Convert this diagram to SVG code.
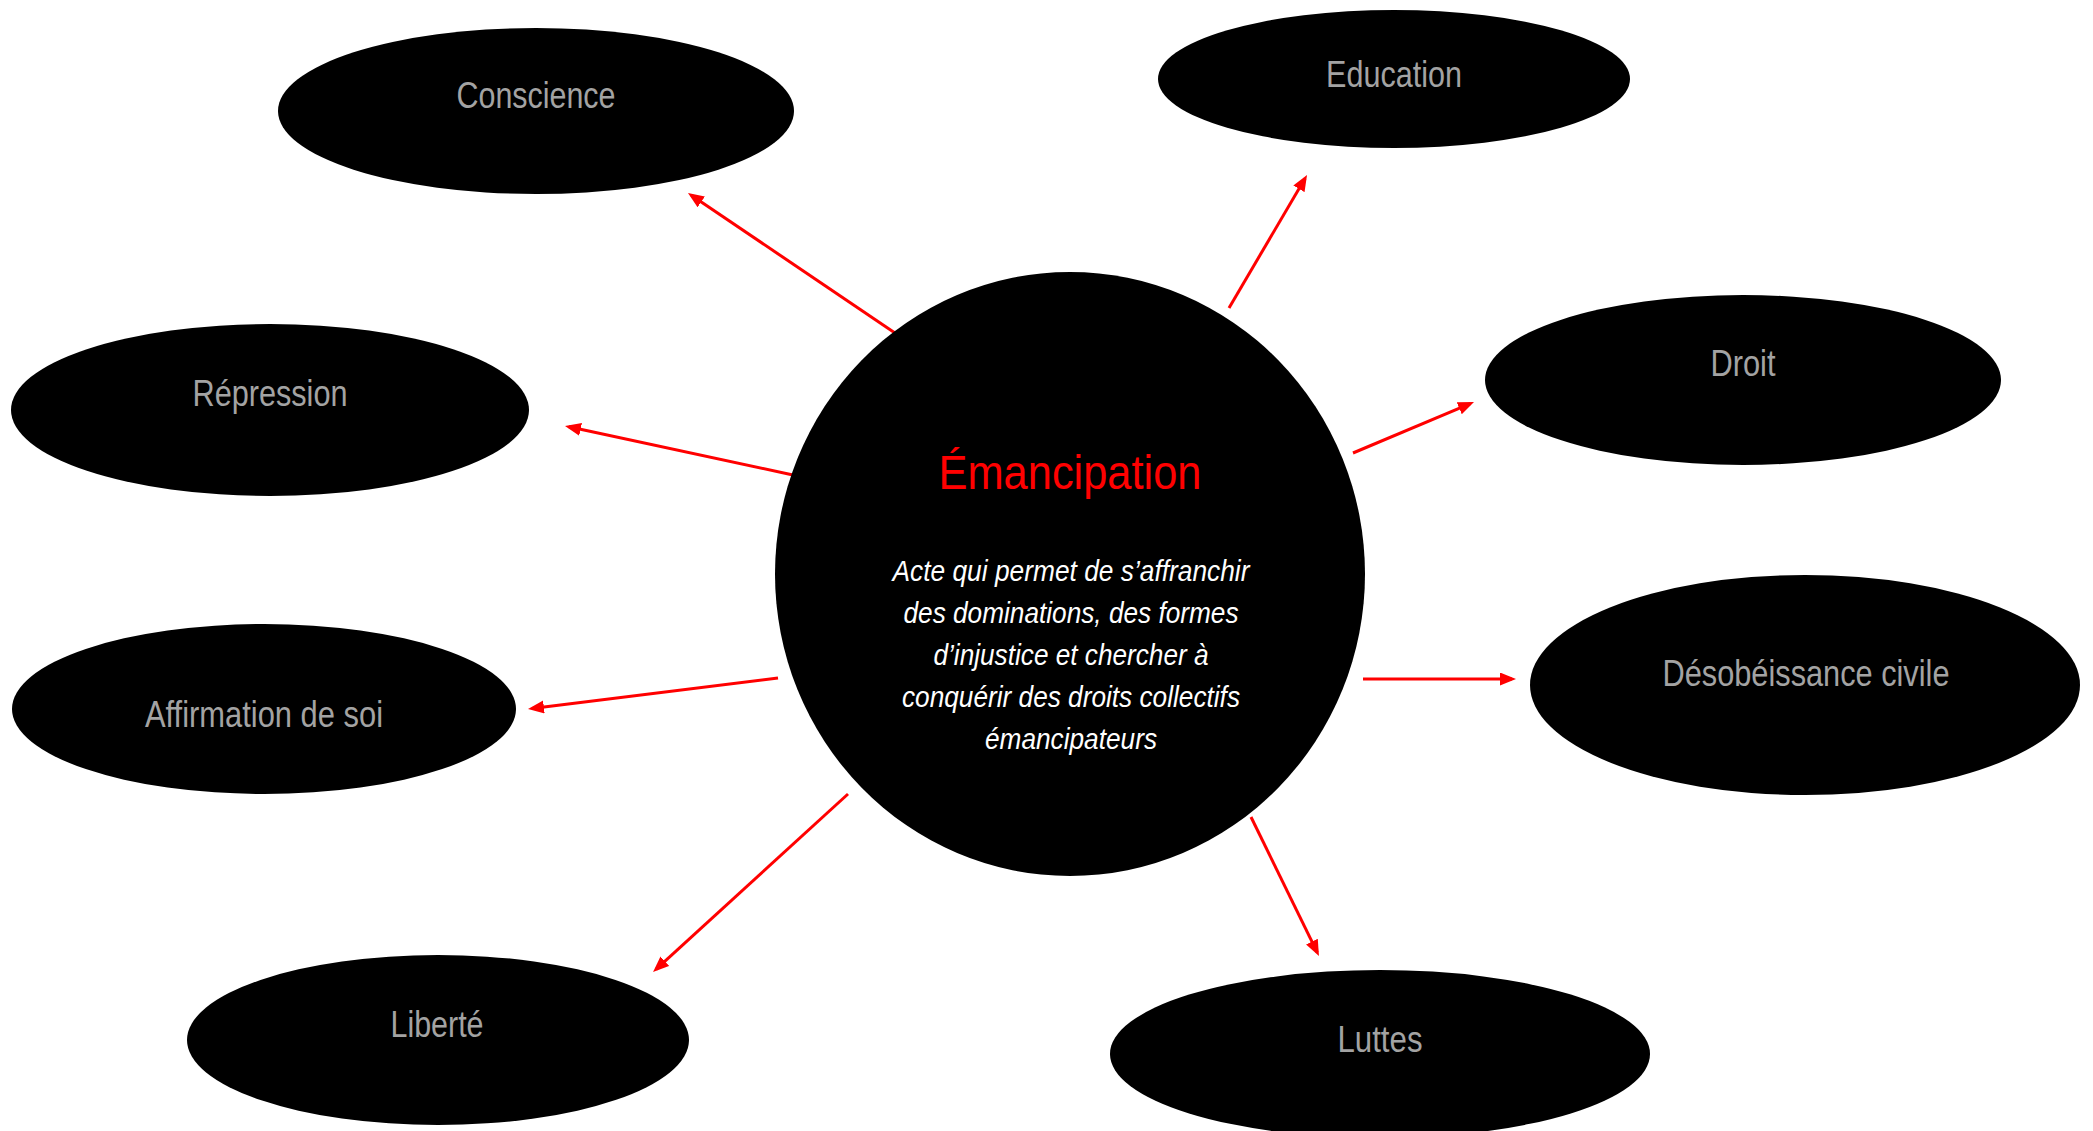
<svg xmlns="http://www.w3.org/2000/svg" width="2093" height="1131" viewBox="0 0 2093 1131">
<style>
.node{fill:#000000;}
.lbl{font-family:"Liberation Sans",Arial,sans-serif;font-size:37px;fill:#a3a3a3;text-anchor:middle;}
.title{font-family:"Liberation Sans",Arial,sans-serif;font-size:49px;fill:#ff0000;text-anchor:middle;}
.body{font-family:"Liberation Sans",Arial,sans-serif;font-size:29px;font-style:italic;fill:#ffffff;text-anchor:middle;}
.conn{stroke:#ff0000;stroke-width:3;fill:none;marker-end:url(#arrow);}
</style>
<defs>
<marker id="arrow" markerUnits="userSpaceOnUse" markerWidth="16" markerHeight="14" refX="12" refY="6.5" orient="auto">
<path d="M0,0 L16,6.5 L0,13 z" fill="#ff0000"/>
</marker>
</defs>
<rect x="0" y="0" width="2093" height="1131" fill="#ffffff"/>
<g id="connectors">
<line class="conn" x1="895" y1="333" x2="691.3" y2="195.2"/>
<line class="conn" x1="1229" y1="308" x2="1305" y2="178.5"/>
<line class="conn" x1="793" y1="475" x2="568.9" y2="426.8"/>
<line class="conn" x1="1353" y1="453" x2="1470.3" y2="403.6"/>
<line class="conn" x1="778" y1="678" x2="532" y2="708.5"/>
<line class="conn" x1="1363" y1="679" x2="1512" y2="679"/>
<line class="conn" x1="848" y1="794" x2="656" y2="969.3"/>
<line class="conn" x1="1251" y1="817" x2="1317.2" y2="952.4"/>
</g>
<g id="center">
<ellipse class="node" cx="1070" cy="574" rx="295" ry="302"/>
<text class="title" x="1070" y="489" textLength="263" lengthAdjust="spacingAndGlyphs">Émancipation</text>
<text class="body" x="1071" y="581" textLength="357" lengthAdjust="spacingAndGlyphs">Acte qui permet de s’affranchir</text>
<text class="body" x="1071" y="623" textLength="335" lengthAdjust="spacingAndGlyphs">des dominations, des formes</text>
<text class="body" x="1071" y="665" textLength="275" lengthAdjust="spacingAndGlyphs">d’injustice et chercher à</text>
<text class="body" x="1071" y="707" textLength="338" lengthAdjust="spacingAndGlyphs">conquérir des droits collectifs</text>
<text class="body" x="1071" y="749" textLength="172" lengthAdjust="spacingAndGlyphs">émancipateurs</text>
</g>
<g id="conscience">
<ellipse class="node" cx="536" cy="111" rx="258" ry="83"/>
<text class="lbl" x="536" y="108" textLength="159" lengthAdjust="spacingAndGlyphs">Conscience</text>
</g>
<g id="education">
<ellipse class="node" cx="1394" cy="79" rx="236" ry="69"/>
<text class="lbl" x="1394" y="87" textLength="136" lengthAdjust="spacingAndGlyphs">Education</text>
</g>
<g id="repression">
<ellipse class="node" cx="270" cy="410" rx="259" ry="86"/>
<text class="lbl" x="270" y="406" textLength="155" lengthAdjust="spacingAndGlyphs">Répression</text>
</g>
<g id="droit">
<ellipse class="node" cx="1743" cy="380" rx="258" ry="85"/>
<text class="lbl" x="1743" y="376" textLength="65" lengthAdjust="spacingAndGlyphs">Droit</text>
</g>
<g id="affirmation">
<ellipse class="node" cx="264" cy="709" rx="252" ry="85"/>
<text class="lbl" x="264" y="727" textLength="238" lengthAdjust="spacingAndGlyphs">Affirmation de soi</text>
</g>
<g id="desobeissance">
<ellipse class="node" cx="1805" cy="685" rx="275" ry="110"/>
<text class="lbl" x="1806" y="686" textLength="287" lengthAdjust="spacingAndGlyphs">Désobéissance civile</text>
</g>
<g id="liberte">
<ellipse class="node" cx="438" cy="1040" rx="251" ry="85"/>
<text class="lbl" x="437" y="1037" textLength="93" lengthAdjust="spacingAndGlyphs">Liberté</text>
</g>
<g id="luttes">
<ellipse class="node" cx="1380" cy="1054" rx="270" ry="84"/>
<text class="lbl" x="1380" y="1052" textLength="85" lengthAdjust="spacingAndGlyphs">Luttes</text>
</g>
</svg>
